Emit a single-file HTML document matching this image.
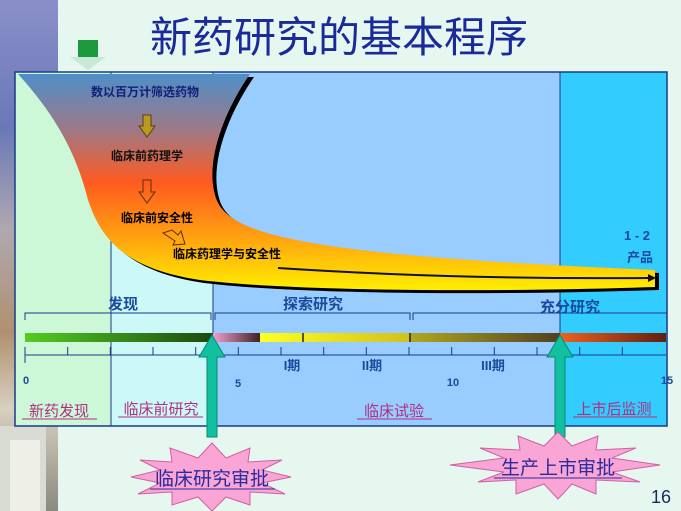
<!DOCTYPE html>
<html><head><meta charset="utf-8"><style>
html,body{margin:0;padding:0;width:681px;height:511px;overflow:hidden;background:#e6f7f0}
svg{display:block}
text{font-family:"Liberation Sans","Noto Sans CJK SC",sans-serif}
</style></head><body>
<svg width="681" height="511" viewBox="0 0 681 511" xmlns="http://www.w3.org/2000/svg">
<defs>
<linearGradient id="strip" x1="0" y1="0" x2="0" y2="1">
<stop offset="0" stop-color="#8a8fc8"/><stop offset="0.25" stop-color="#6a78b8"/>
<stop offset="0.45" stop-color="#b0a8b0"/><stop offset="0.65" stop-color="#b09070"/>
<stop offset="0.8" stop-color="#d8d0c0"/><stop offset="1" stop-color="#8a8a80"/>
</linearGradient>
<linearGradient id="fun" x1="0" y1="74" x2="0" y2="290" gradientUnits="userSpaceOnUse">
<stop offset="0" stop-color="#4f8fc8"/><stop offset="0.25" stop-color="#9a7a8a"/>
<stop offset="0.5" stop-color="#ff5a20"/><stop offset="0.75" stop-color="#ffa010"/>
<stop offset="1" stop-color="#ffee00"/>
</linearGradient>
<linearGradient id="g1" x1="0" x2="1"><stop offset="0" stop-color="#55cc22"/><stop offset="1" stop-color="#1a4a10"/></linearGradient>
<linearGradient id="g2" x1="0" x2="1"><stop offset="0" stop-color="#f0a0d0"/><stop offset="1" stop-color="#402020"/></linearGradient>
<linearGradient id="g3" x1="0" x2="1"><stop offset="0" stop-color="#ffff20"/><stop offset="1" stop-color="#d0c020"/></linearGradient>
<linearGradient id="g4" x1="0" x2="1"><stop offset="0" stop-color="#b0a820"/><stop offset="1" stop-color="#504020"/></linearGradient>
<linearGradient id="g5" x1="0" x2="1"><stop offset="0" stop-color="#f06020"/><stop offset="1" stop-color="#602010"/></linearGradient>
</defs>
<rect x="0" y="0" width="58" height="511" fill="url(#strip)"/>
<rect x="0" y="426" width="46" height="85" fill="#d8dcd4"/>
<rect x="10" y="440" width="30" height="71" fill="#eef0e8"/>
<text x="339" y="52" font-size="42" fill="#1a2a9a" text-anchor="middle">新药研究的基本程序</text>
<rect x="78" y="40" width="20" height="17" fill="#1f9a3a"/>
<polygon points="70,57 106,57 88,70" fill="#c8e8d8"/>
<rect x="15" y="72" width="96" height="354" fill="#ccf8d8"/>
<rect x="111" y="72" width="102" height="354" fill="#ccf8f8"/>
<rect x="213" y="72" width="347" height="354" fill="#99ccff"/>
<rect x="560" y="72" width="107" height="354" fill="#33ccff"/>
<line x1="111" y1="72" x2="111" y2="426" stroke="#1a3a8a" stroke-width="1"/>
<line x1="213" y1="72" x2="213" y2="426" stroke="#1a3a8a" stroke-width="1"/>
<line x1="560" y1="72" x2="560" y2="426" stroke="#1a3a8a" stroke-width="1"/>
<rect x="15" y="72" width="652" height="354" fill="none" stroke="#1a3a8a" stroke-width="1.5"/>
<path d="M22,77 L254,77 C229,113 209,163 219,198 C229,238 304,258 659,273 L659,290 C504,295 304,295 204,283 C124,271 104,238 92,203 C82,163 64,123 22,77 Z" fill="#000"/>
<path d="M18,74 L250,74 C225,110 205,160 215,195 C225,235 300,255 655,270 L655,287 C500,292 300,292 200,280 C120,268 100,235 88,200 C78,160 60,120 18,74 Z" fill="url(#fun)"/>
<path d="M278,268 C400,276 520,279 648,278" stroke="#111" stroke-width="2" fill="none"/>
<polygon points="648,274 656,278 648,282" fill="#111"/>
<text x="145" y="96" font-size="12" font-weight="bold" fill="#10207a" text-anchor="middle">数以百万计筛选药物</text>
<polygon points="143,115 151,115 151,126 155,126 147,137 139,126 143,126" fill="#b89a20" stroke="#5a4010" stroke-width="1"/>
<text x="147" y="160" font-size="12" font-weight="bold" fill="#111" text-anchor="middle">临床前药理学</text>
<polygon points="143,180 151,180 151,192 155,192 147,203 139,192 143,192" fill="none" stroke="#5a3010" stroke-width="1"/>
<text x="157" y="222" font-size="12" font-weight="bold" fill="#000" text-anchor="middle">临床前安全性</text>
<polygon points="163,233 172,230 178,235 181,231 185,244 173,245 175,241" fill="none" stroke="#5a3010" stroke-width="1"/>
<text x="227" y="258" font-size="12" font-weight="bold" fill="#000" text-anchor="middle">临床药理学与安全性</text>
<text x="637" y="240" font-size="13" font-weight="bold" fill="#1a4a9a" text-anchor="middle">1 - 2</text>
<text x="640" y="262" font-size="13" font-weight="bold" fill="#1a4a9a" text-anchor="middle">产品</text>
<text x="123" y="309" font-size="15" font-weight="bold" fill="#1a4a9a" text-anchor="middle">发现</text>
<text x="313" y="309" font-size="15" font-weight="bold" fill="#1a4a9a" text-anchor="middle">探索研究</text>
<text x="570" y="312" font-size="15" font-weight="bold" fill="#1a4a9a" text-anchor="middle">充分研究</text>
<path d="M25,320 V313 H211 V320 M215,320 V313 H410 V320 M413,320 V313 H667" stroke="#1a3a8a" stroke-width="1" fill="none"/>
<rect x="25" y="333" width="188" height="9" fill="url(#g1)"/>
<rect x="213" y="333" width="47" height="9" fill="url(#g2)"/>
<rect x="260" y="333" width="150" height="9" fill="url(#g3)"/>
<rect x="410" y="333" width="150" height="9" fill="url(#g4)"/>
<rect x="560" y="333" width="106" height="9" fill="url(#g5)"/>
<line x1="303" y1="333" x2="303" y2="342" stroke="#222" stroke-width="1.5"/>
<line x1="410" y1="333" x2="410" y2="342" stroke="#222" stroke-width="1.5"/>
<path d="M25,355 H666 M25,347 V363 M67.7,347 V355 M110.3,347 V355 M153,347 V355 M195.7,347 V355 M238.3,347 V355 M281,347 V355 M323.7,347 V355 M366.3,347 V355 M409,347 V355 M451.7,347 V355 M494.3,347 V355 M537,347 V355 M579.7,347 V355 M622.3,347 V355" stroke="#1a3a8a" stroke-width="1" fill="none"/>
<text x="292" y="370" font-size="13" font-weight="bold" fill="#1a4a9a" text-anchor="middle">I期</text>
<text x="372" y="370" font-size="13" font-weight="bold" fill="#1a4a9a" text-anchor="middle">II期</text>
<text x="493" y="370" font-size="13" font-weight="bold" fill="#1a4a9a" text-anchor="middle">III期</text>
<text x="26" y="384" font-size="11" font-weight="bold" fill="#1a4a9a" text-anchor="middle">0</text>
<text x="238" y="387" font-size="11" font-weight="bold" fill="#1a4a9a" text-anchor="middle">5</text>
<text x="453" y="386" font-size="11" font-weight="bold" fill="#1a4a9a" text-anchor="middle">10</text>
<text x="667" y="384" font-size="11" font-weight="bold" fill="#1a4a9a" text-anchor="middle">15</text>
<g font-size="15" fill="#b03080" text-anchor="middle">
<text x="59" y="416">新药发现</text>
<text x="161" y="414">临床前研究</text>
<text x="394" y="416">临床试验</text>
<text x="614" y="414">上市后监测</text>
</g>
<line x1="22" y1="419" x2="97" y2="419" stroke="#b03080"/>
<line x1="118" y1="417" x2="203" y2="417" stroke="#b03080"/>
<line x1="357" y1="419" x2="432" y2="419" stroke="#b03080"/>
<line x1="573" y1="417" x2="657" y2="417" stroke="#b03080"/>
<polygon points="212,335 225,357 217,357 217,437 207,437 207,357 199,357" fill="#10c0a0" stroke="#0a8a70" stroke-width="1"/>
<polygon points="560,335 573,357 565,357 565,437 555,437 555,357 547,357" fill="#10c0a0" stroke="#0a8a70" stroke-width="1"/>
<polygon points="212,443 226,458 250,448 248,462 282,460 262,470 291,477 262,483 285,494 250,492 250,505 226,497 212,511 198,497 172,505 172,492 138,494 160,483 131,477 160,470 140,460 172,462 170,448 198,458" fill="#f9a6d6" stroke="#d060a0" stroke-width="1"/>
<text x="212" y="485" font-size="19" fill="#2a2a9a" text-anchor="middle">临床研究审批</text>
<line x1="150" y1="489" x2="275" y2="489" stroke="#2a2a9a"/>
<polygon points="558,432 572,446 598,436 596,450 636,448 612,458 660,465 612,472 640,482 596,480 596,494 572,484 558,499 544,484 516,494 516,480 478,482 504,472 450,465 504,458 480,448 520,450 518,436 544,446" fill="#f9a6d6" stroke="#d060a0" stroke-width="1"/>
<text x="558" y="474" font-size="19" fill="#2a2a9a" text-anchor="middle">生产上市审批</text>
<line x1="494" y1="478" x2="622" y2="478" stroke="#2a2a9a"/>
<text x="661" y="503" font-size="18" fill="#1a2a5a" text-anchor="middle">16</text>
</svg>
</body></html>
